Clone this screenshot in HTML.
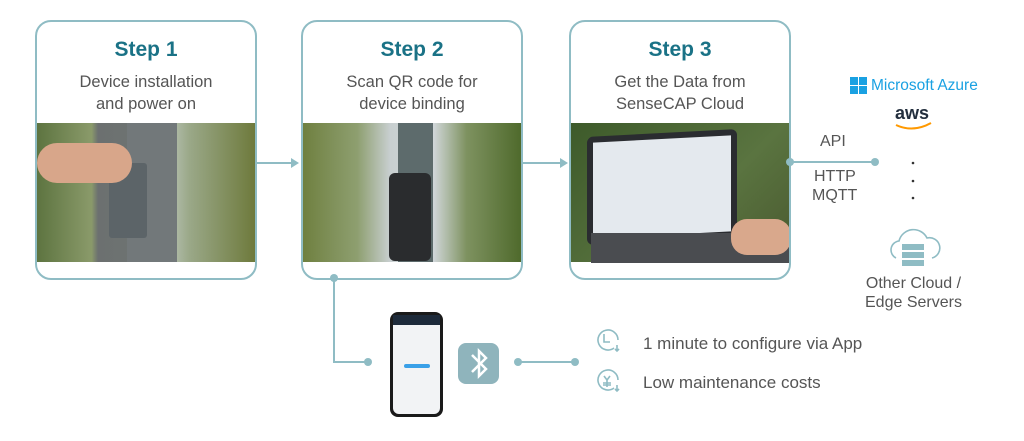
<!DOCTYPE html>
<html><head><meta charset="utf-8"><style>
body{margin:0;width:1024px;height:441px;background:#fff;position:relative;overflow:hidden;font-family:"Liberation Sans",sans-serif}
.card{position:absolute;top:20px;width:218px;height:256px;border:2px solid #8fbcc4;border-radius:16px;overflow:hidden;background:#fff}
.card h2{margin:0;position:absolute;top:16px;width:100%;text-align:center;font-size:21px;color:#1a7286;font-weight:bold}
.card p{margin:0;position:absolute;top:49px;width:100%;text-align:center;font-size:16.5px;line-height:22px;color:#555}
.img{position:absolute;top:101px;left:0;width:100%;height:139px}
.t{position:absolute;color:#555;font-size:14px;white-space:nowrap}
</style></head><body>
<div class="card" style="left:35px"><h2>Step 1</h2><p>Device installation<br>and power on</p>
<div class="img" style="background:linear-gradient(90deg,#5d7440 0%,#8a9a6a 25%,#6c7070 28%,#6e7472 48%,#c8d0cc 55%,#9aa888 70%,#6e7a3c 100%)">
<div style="position:absolute;left:90px;top:0;width:50px;height:139px;background:#72787a"></div>
<div style="position:absolute;left:72px;top:40px;width:38px;height:75px;background:#5c6468;border-radius:3px"></div>
<div style="position:absolute;left:0;top:20px;width:95px;height:40px;background:#d8a68a;border-radius:20px"></div></div></div>
<div class="card" style="left:301px"><h2>Step 2</h2><p>Scan QR code for<br>device binding</p>
<div class="img" style="background:linear-gradient(90deg,#6f8040 0%,#8e9f70 25%,#c8cfd0 40%,#d0d6d8 60%,#7e9260 75%,#4f6a2c 100%)">
<div style="position:absolute;left:95px;top:0;width:35px;height:139px;background:#5d6b6c"></div>
<div style="position:absolute;left:86px;top:50px;width:42px;height:88px;background:#2a2c2e;border-radius:6px"></div></div></div>
<div class="card" style="left:569px"><h2>Step 3</h2><p>Get the Data from<br>SenseCAP Cloud</p>
<div class="img" style="background:linear-gradient(135deg,#3d5a2a,#5a7440 60%,#4a5a30)">
<div style="position:absolute;left:16px;top:10px;width:150px;height:108px;background:#2a2c30;border-radius:6px;transform:skewY(-3deg)"></div>
<div style="position:absolute;left:22px;top:16px;width:138px;height:96px;background:#e4e9ee;transform:skewY(-3deg)"></div>
<div style="position:absolute;left:20px;top:110px;width:200px;height:30px;background:#4a4c50"></div>
<div style="position:absolute;left:160px;top:96px;width:60px;height:36px;background:#d9a88c;border-radius:16px"></div></div></div>
<svg width="1024" height="441" style="position:absolute;left:0;top:0">
<g stroke="#8fbcc4" stroke-width="2" fill="none">
<line x1="256" y1="163" x2="292" y2="163"/><line x1="521" y1="163" x2="561" y2="163"/>
<line x1="790" y1="162" x2="875" y2="162"/>
<polyline points="334,278 334,362 368,362"/>
<line x1="518" y1="362" x2="575" y2="362"/>
</g>
<g fill="#8fbcc4">
<polygon points="291,158 299,163 291,168"/><polygon points="560,158 568,163 560,168"/>
<circle cx="790" cy="162" r="4"/><circle cx="875" cy="162" r="4"/>
<circle cx="334" cy="278" r="4"/><circle cx="368" cy="362" r="4"/>
<circle cx="518" cy="362" r="4"/><circle cx="575" cy="362" r="4"/>
<circle cx="913" cy="163" r="1.3" fill="#333"/><circle cx="913" cy="181" r="1.3" fill="#333"/><circle cx="913" cy="198" r="1.3" fill="#333"/>
</g>
<rect x="458" y="343" width="41" height="41" rx="8" fill="#8fb4bc"/>
<path d="M472,355 L486,369 L479,376 L479,351 L486,358 L472,372" stroke="#fff" stroke-width="2.5" fill="none"/>
<rect x="390" y="312" width="53" height="105" rx="8" fill="#1a1a1a"/>
<rect x="393" y="315" width="47" height="99" rx="6" fill="#f2f3f5"/>
<rect x="393" y="315" width="47" height="10" fill="#1d2a3a"/>
<rect x="404" y="364" width="26" height="4" rx="2" fill="#3aa0e8"/>
<g stroke="#8fbcc4" stroke-width="1.6" fill="none">
<path d="M614,348 A10,10 0 1 1 618,340"/><polyline points="604,334 604,342 610,342"/><path d="M617,345 v6 m-2,-2 l2,2 l2,-2"/>
<path d="M614,388 A10,10 0 1 1 618,380"/><path d="M604,376 l3,4 l3,-4 m-3,4 v7 m-4,-4 h8 m-8,2 h8"/>
<path d="M617,385 v6 m-2,-2 l2,2 l2,-2"/>
<path d="M896,258 a9,9 0 0 1 3,-17 a15,15 0 0 1 28,-3 a10,10 0 0 1 5,20"/>
</g>
<g fill="#8fbcc4"><rect x="902" y="244" width="22" height="6"/><rect x="902" y="252" width="22" height="6"/><rect x="902" y="260" width="22" height="6"/></g>
<g fill="#1aa1e2"><rect x="850" y="77" width="8" height="8"/><rect x="859" y="77" width="8" height="8"/><rect x="850" y="86" width="8" height="8"/><rect x="859" y="86" width="8" height="8"/></g>
<path d="M896,125 q17,8 35,-2" stroke="#f90" stroke-width="2" fill="none"/>
</svg>
<div class="t" style="left:871px;top:77px;color:#1aa1e2;font-size:15.5px">Microsoft Azure</div>
<div class="t" style="left:895px;top:103px;color:#232f3e;font-size:18px;font-weight:bold">aws</div>
<div class="t" style="left:820px;top:133px;font-size:16px">API</div>
<div class="t" style="left:814px;top:168px;font-size:16px">HTTP</div>
<div class="t" style="left:812px;top:187px;font-size:16px">MQTT</div>
<div class="t" style="left:865px;top:274px;font-size:16px;text-align:center;line-height:19px">Other Cloud /<br>Edge Servers</div>
<div class="t" style="left:643px;top:334px;font-size:17px">1 minute to configure via App</div>
<div class="t" style="left:643px;top:373px;font-size:17px">Low maintenance costs</div>
</body></html>
